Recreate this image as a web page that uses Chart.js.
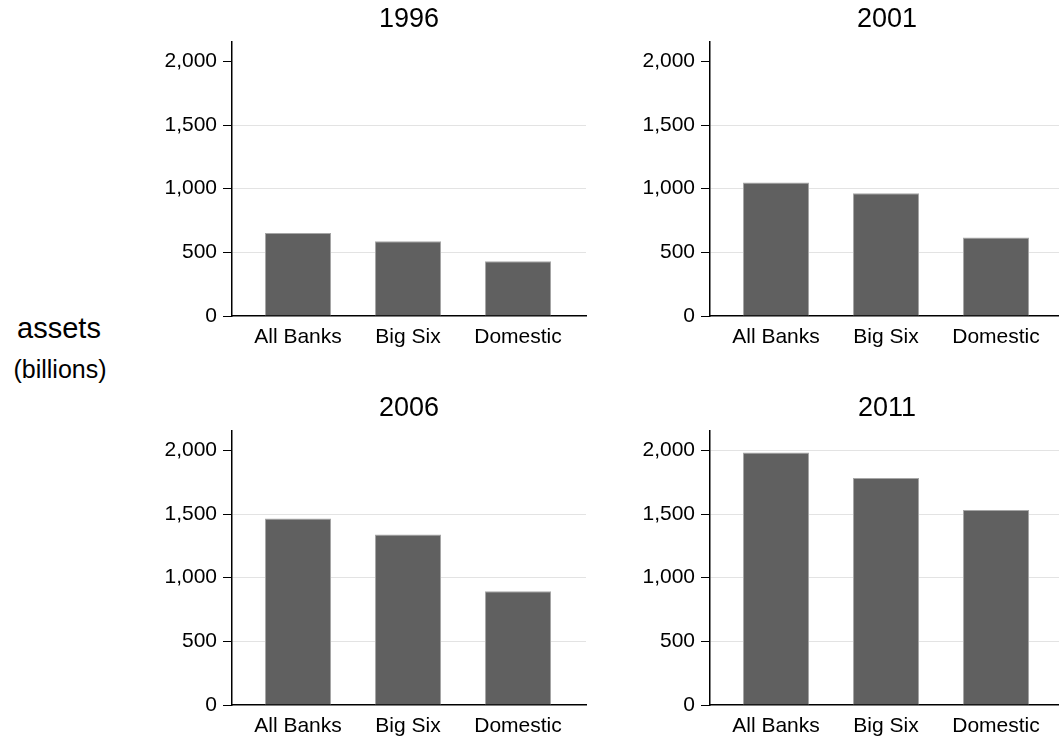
<!DOCTYPE html>
<html>
<head>
<meta charset="utf-8">
<script src="https://cdn.jsdelivr.net/npm/chart.js@4/dist/chart.umd.min.js"></script>
<style>
  html, body { margin: 0; padding: 0; background: #fff; overflow: hidden; }
  body { width: 1059px; height: 740px; position: relative; font-family: "Liberation Sans", Arial, sans-serif; }
  .panel { position: absolute; width: 460px; height: 356px; }
  .ylab { position: absolute; color: #000; white-space: nowrap; text-align: center; }
</style>
</head>
<body>
<div class="ylab" style="left:0; width:118px; top:311px; font-size:29px; line-height:34px;">assets</div>
<div class="ylab" style="left:0; width:120px; top:354px; font-size:25px; line-height:30px;">(billions)</div>
<div class="panel" style="left:140px; top:0px;"><canvas id="c0"></canvas></div>
<div class="panel" style="left:618px; top:0px;"><canvas id="c1"></canvas></div>
<div class="panel" style="left:140px; top:389px;"><canvas id="c2"></canvas></div>
<div class="panel" style="left:618px; top:389px;"><canvas id="c3"></canvas></div>
<script>
// data
var categories = ['All Banks', 'Big Six', 'Domestic'];
var years = ['1996', '2001', '2006', '2011'];
var assets1996 = [651, 588, 431];
var assets2001 = [1048, 965, 617];
var assets2006 = [1465, 1339, 894];
var assets2011 = [1984, 1784, 1532];
var yTicks = [0, 500, 1000, 1500, 2000];
var yMax = 2157;

var panels = [assets1996, assets2001, assets2006, assets2011];

function make_panel(idx){
  var values = panels[idx];
  var points = values.map(function(v, i){ return {x: i, y: v}; });
  // only the last panel shows a grid line at the top tick
  var showTop = idx === 3;

  new Chart(document.getElementById('c' + idx), {
    type: 'bar',
    data: {
      datasets: [{
        data: points,
        backgroundColor: '#606060',
        borderColor: '#a6a6a6',
        borderWidth: 1,
        categoryPercentage: 1,
        barPercentage: 0.6
      }]
    },
    options: {
      responsive: true,
      maintainAspectRatio: false,
      animation: false,
      layout: { padding: { left: 12, right: 14, top: 0, bottom: 0 } },
      plugins: {
        legend: { display: false },
        tooltip: { enabled: false },
        title: {
          display: true,
          text: years[idx],
          fullSize: false,
          color: '#000',
          font: { family: 'Liberation Sans', size: 27, weight: 'normal' },
          padding: { top: 3, bottom: 6 }
        }
      },
      scales: {
        x: {
          type: 'linear',
          offset: false,
          min: -0.6,
          max: 2.618,
          afterBuildTicks: function(scale){
            scale.ticks = categories.map(function(c, i){ return {value: i}; });
          },
          afterFit: function(scale){ scale.height = 40; },
          grid: { display: false },
          border: { display: true, color: '#000', width: 1.5 },
          ticks: {
            color: '#000',
            padding: 1,
            maxRotation: 0,
            autoSkip: false,
            font: { family: 'Liberation Sans', size: 21 },
            callback: function(value){ return categories[value]; }
          }
        },
        y: {
          min: 0,
          max: yMax,
          afterBuildTicks: function(scale){
            scale.ticks = yTicks.map(function(v){ return {value: v}; });
          },
          afterFit: function(scale){ scale.width = 80; },
          grid: {
            drawOnChartArea: true,
            tickLength: 9,
            tickColor: '#000',
            lineWidth: 1,
            color: function(ctx){
              var v = ctx.tick ? ctx.tick.value : 0;
              if (v === 0) return 'rgba(0,0,0,0)';
              if (v === 2000 && !showTop) return 'rgba(0,0,0,0)';
              return '#e3e3e3';
            }
          },
          border: { display: true, color: '#000', width: 1.5 },
          ticks: {
            color: '#000',
            padding: 6,
            font: { family: 'Liberation Sans', size: 21 },
            callback: function(value){ return value.toLocaleString('en-US'); }
          }
        }
      }
    }
  });
}

for (var i = 0; i < panels.length; i++) {
  make_panel(i);
}
</script>
</body>
</html>
